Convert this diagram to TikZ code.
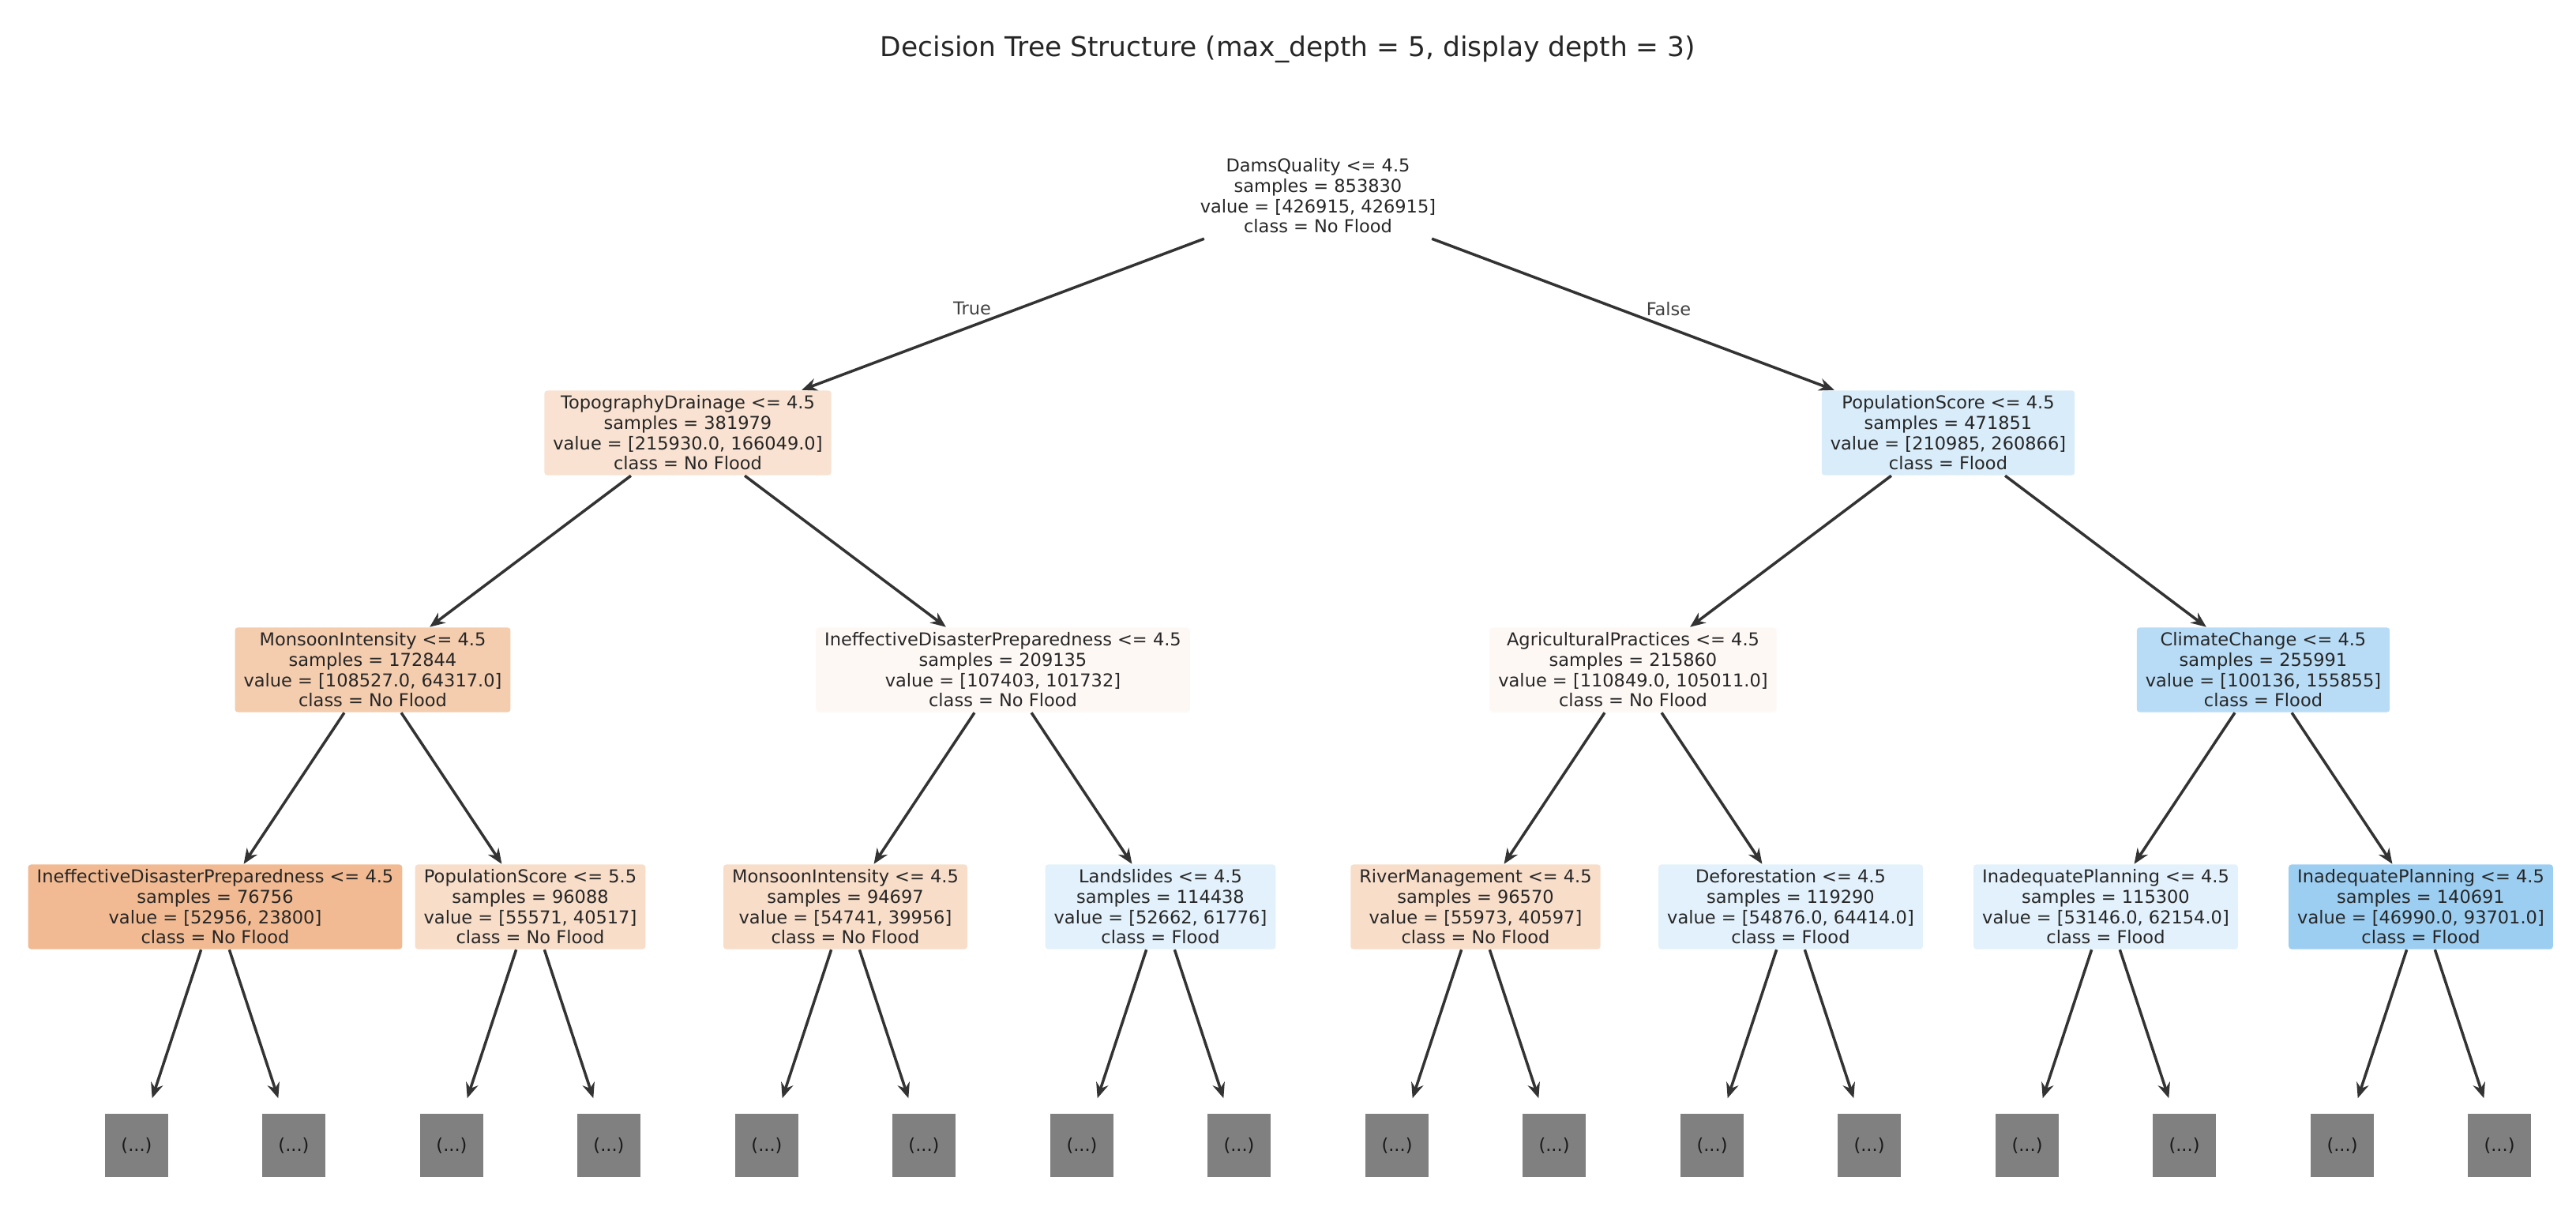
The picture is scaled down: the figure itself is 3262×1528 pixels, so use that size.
\documentclass[tikz,border=0pt]{standalone}
\usepackage{fontspec}
\setmainfont{DejaVu Sans}
\usetikzlibrary{arrows.meta}
% class shades (No Flood = orange, Flood = blue)
\definecolor{nf05}{RGB}{254,248,245}
\definecolor{nf23}{RGB}{249,226,209}
\definecolor{nf27}{RGB}{248,221,201}
\definecolor{nf41}{RGB}{244,204,174}
\definecolor{nf55}{RGB}{241,186,146}
\definecolor{fl15}{RGB}{226,241,251}
\definecolor{fl19}{RGB}{217,236,250}
\definecolor{fl36}{RGB}{184,220,246}
\definecolor{fl50}{RGB}{156,206,242}
\definecolor{cut grey}{RGB}{128,128,128}
\newcommand{\treefont}{\fontsize{6.4pt}{7.3pt}\selectfont}
\tikzset{
    % Text
    title/.style={font=\fontsize{9.8pt}{11pt}\selectfont,text=black!85},
    edge label/.style={font=\treefont,text=black!75},
    %
    % Nodes
    split/.style={rectangle,rounded corners=1pt,fill=#1,inner xsep=0.11cm,inner ysep=0pt,
        minimum height=1.07cm,align=center,font=\treefont,text=black!85},
    leaf/.style={rectangle,fill=cut grey,minimum size=0.8cm,inner sep=0pt,font=\treefont,text=black!90},
    %
    % Arrows
    arrow tip/.tip={Stealth[length=5.5pt,width=4.5pt]},
    arr/.style={->,>={arrow tip},line width=1pt,black!80},
    leaf arr/.style={arr,shorten >=0.2cm}
}

\begin{document}
\begin{tikzpicture}[x=0.01cm,y=-0.01cm]
    \useasboundingbox (0,0) rectangle (3262,1528);
    \node[title] (title) at (1631,62) {Decision Tree Structure (max\_depth = 5, display depth = 3)};

    % depth 0 and 1
    \node[split=white] (root) at (1669,248) {DamsQuality <= 4.5\\samples = 853830\\value = [426915, 426915]\\class = No Flood};
    \node[split=nf23] (td) at (871,548) {TopographyDrainage <= 4.5\\samples = 381979\\value = [215930.0, 166049.0]\\class = No Flood};
    \node[split=fl19] (ps) at (2467,548) {PopulationScore <= 4.5\\samples = 471851\\value = [210985, 260866]\\class = Flood};

    % depth 2
    \node[split=nf41] (mi) at (472,848) {MonsoonIntensity <= 4.5\\samples = 172844\\value = [108527.0, 64317.0]\\class = No Flood};
    \node[split=nf05] (idp) at (1270,848) {IneffectiveDisasterPreparedness <= 4.5\\samples = 209135\\value = [107403, 101732]\\class = No Flood};
    \node[split=nf05] (ap) at (2068,848) {AgriculturalPractices <= 4.5\\samples = 215860\\value = [110849.0, 105011.0]\\class = No Flood};
    \node[split=fl36] (cc) at (2866,848) {ClimateChange <= 4.5\\samples = 255991\\value = [100136, 155855]\\class = Flood};

    % depth 3
    \node[split=nf55] (idpb) at (272.5,1148) {IneffectiveDisasterPreparedness <= 4.5\\samples = 76756\\value = [52956, 23800]\\class = No Flood};
    \node[split=nf27] (psb) at (671.5,1148) {PopulationScore <= 5.5\\samples = 96088\\value = [55571, 40517]\\class = No Flood};
    \node[split=nf27] (mib) at (1070.5,1148) {MonsoonIntensity <= 4.5\\samples = 94697\\value = [54741, 39956]\\class = No Flood};
    \node[split=fl15] (ls) at (1469.5,1148) {Landslides <= 4.5\\samples = 114438\\value = [52662, 61776]\\class = Flood};
    \node[split=nf27] (rm) at (1868.5,1148) {RiverManagement <= 4.5\\samples = 96570\\value = [55973, 40597]\\class = No Flood};
    \node[split=fl15] (df) at (2267.5,1148) {Deforestation <= 4.5\\samples = 119290\\value = [54876.0, 64414.0]\\class = Flood};
    \node[split=fl15] (ip) at (2666.5,1148) {InadequatePlanning <= 4.5\\samples = 115300\\value = [53146.0, 62154.0]\\class = Flood};
    \node[split=fl50] (ipb) at (3065.5,1148) {InadequatePlanning <= 4.5\\samples = 140691\\value = [46990.0, 93701.0]\\class = Flood};

    \draw[arr] (root) -- (td);
    \draw[arr] (root) -- (ps);
    \node[edge label] (true) at (1231,390) {True};
    \node[edge label] (false) at (2113,391) {False};
    \draw[arr] (td) -- (mi);
    \draw[arr] (td) -- (idp);
    \draw[arr] (ps) -- (ap);
    \draw[arr] (ps) -- (cc);
    \draw[arr] (mi) -- (idpb);
    \draw[arr] (mi) -- (psb);
    \draw[arr] (idp) -- (mib);
    \draw[arr] (idp) -- (ls);
    \draw[arr] (ap) -- (rm);
    \draw[arr] (ap) -- (df);
    \draw[arr] (cc) -- (ip);
    \draw[arr] (cc) -- (ipb);

    % truncated subtrees
    \foreach \n/\x in {idpb/272.5,psb/671.5,mib/1070.5,ls/1469.5,rm/1868.5,df/2267.5,ip/2666.5,ipb/3065.5} {
        \node[leaf] (\n-l) at ({\x-99.5},1450) {(...)};
        \node[leaf] (\n-r) at ({\x+99.5},1450) {(...)};
        \draw[leaf arr] (\n) -- (\n-l);
        \draw[leaf arr] (\n) -- (\n-r);
    }
\end{tikzpicture}
\end{document}
